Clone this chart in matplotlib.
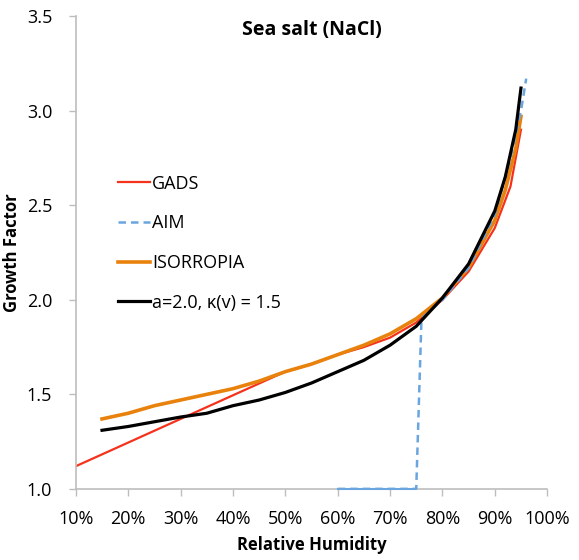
import matplotlib.pyplot as plt
import numpy as np

plt.rcParams['font.family'] = ['Open Sans', 'DejaVu Sans']

# data (RH in %, growth factor)
rh_gads = [10, 50, 55, 60, 65, 70, 75, 80, 85, 90, 93, 95]
gf_gads = [1.12, 1.62, 1.66, 1.71, 1.75, 1.80, 1.88, 2.00, 2.15, 2.38, 2.60, 2.90]

rh_aim = [60, 75, 76, 80, 85, 90, 93, 95, 96]
gf_aim = [1.00, 1.00, 1.90, 2.00, 2.17, 2.45, 2.75, 3.00, 3.17]

rh_iso = [15, 20, 25, 30, 35, 40, 45, 50, 55, 60, 65, 70, 75, 80, 85, 90, 92, 94, 95]
gf_iso = [1.37, 1.40, 1.44, 1.47, 1.50, 1.53, 1.57, 1.62, 1.66, 1.71, 1.76, 1.82,
          1.90, 2.01, 2.17, 2.42, 2.58, 2.80, 2.97]

rh_kap = [15, 20, 25, 30, 35, 40, 45, 50, 55, 60, 65, 70, 75, 80, 85, 90, 92, 94, 95]
gf_kap = [1.31, 1.33, 1.355, 1.38, 1.40, 1.44, 1.47, 1.51, 1.56, 1.62, 1.68, 1.76,
          1.86, 2.01, 2.19, 2.47, 2.65, 2.90, 3.12]

fig = plt.figure(figsize=(5.79, 5.6), dpi=100)
ax = fig.add_axes([0.131, 0.127, 0.814, 0.844])

ax.plot(rh_gads, gf_gads, color='#f5321c', lw=1.6, label='GADS', zorder=2)
ax.plot(rh_aim, gf_aim, color='#6aa5e0', lw=1.8, ls=(0, (3, 2)), label='AIM', zorder=3)
# flat part of AIM sits on the axis and shows as a thin solid line
flat = np.array(gf_aim) <= 1.0
ax.plot(np.array(rh_aim)[flat], np.array(gf_aim)[flat], color='#6aa5e0', lw=1.5,
        zorder=4, clip_on=False)
ax.plot(rh_iso, gf_iso, color='#e8820c', lw=2.6, label='ISORROPIA', zorder=2)
ax.plot(rh_kap, gf_kap, color='black', lw=2.3, label='a=2.0, κ(v) = 1.5', zorder=3)

ax.set_xlim(10, 100)
ax.set_ylim(1.0, 3.5)
ax.set_xticks(np.arange(10, 101, 10))
ax.set_xticklabels([f'{v}%' for v in range(10, 101, 10)])
ax.set_yticks(np.arange(1.0, 3.51, 0.5))
ax.set_yticklabels([f'{v:.1f}' for v in np.arange(1.0, 3.51, 0.5)])
ax.tick_params(labelsize=13, color='#bdbdbd', length=5, width=1)
ax.tick_params(axis='x', pad=10)
ax.tick_params(axis='y', pad=12)

for s in ['top', 'right']:
    ax.spines[s].set_visible(False)
for s in ['left', 'bottom']:
    ax.spines[s].set_color('#bdbdbd')
    ax.spines[s].set_linewidth(1.2)

ax.set_xlabel('Relative Humidity', fontsize=12, fontweight='bold', labelpad=6)
ax.set_ylabel('Growth Factor', fontsize=12, fontweight='bold', labelpad=4)
ax.text(0.5, 0.97, 'Sea salt (NaCl)', transform=ax.transAxes, ha='center', va='center',
        fontsize=14, fontweight='bold')

ax.legend(loc='upper left', bbox_to_anchor=(0.074, 0.68), frameon=False, fontsize=13,
          handlelength=1.75, handletextpad=0.15, labelspacing=1.2, borderaxespad=0)

fig.savefig('out.png', dpi=100)
